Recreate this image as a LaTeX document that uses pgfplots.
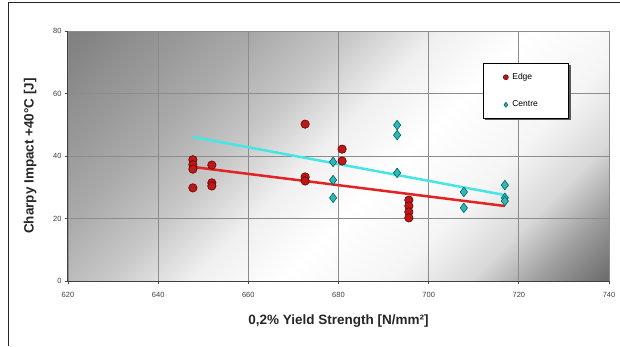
\documentclass[border=0pt]{standalone}
\usepackage{fontspec}
\setmainfont{Liberation Sans}
\usepackage{pgfplots}
\pgfplotsset{compat=1.18}
\usetikzlibrary{shadows}
\definecolor{edgefill}{RGB}{185,25,25}
\definecolor{edgedraw}{RGB}{110,0,0}
\definecolor{edgeline}{RGB}{225,35,35}
\definecolor{cenfill}{RGB}{45,185,185}
\definecolor{cendraw}{RGB}{0,95,95}
\definecolor{cenline}{RGB}{70,230,230}
\pgfdeclareverticalshading{diagbg}{100bp}{color(0bp)=(black!57); color(15bp)=(black!57); color(21bp)=(black!38); color(27bp)=(black!15); color(34bp)=(black!4); color(44bp)=(white); color(52bp)=(black!6); color(60bp)=(black!22); color(68bp)=(black!33); color(85bp)=(black!50); color(100bp)=(black!50)}
\begin{document}
\begin{tikzpicture}[x=1pt,y=1pt]
\useasboundingbox (-68,-65) rectangle (552,281);
\draw[black!85, line width=1pt] (-59,-65) -- (-59,278) -- (552,278);
\begin{axis}[
  at={(0,0)}, anchor=south west,
  scale only axis, width=541pt, height=250pt,
  xmin=620, xmax=740, ymin=0, ymax=80,
  xtick={620,640,...,740}, ytick={0,20,...,80},
  axis background/.style={shading=diagbg, shading angle=45},
  grid=major, major grid style={black!45, line width=0.8pt},
  axis x line=bottom, axis y line=left, axis line style={-, black!75, line width=1pt},
  tick align=outside, major tick length=3pt, tick style={black!70, line width=0.8pt},
  ticklabel style={font=\fontsize{7.5}{8}\selectfont, text=black!75},
  xticklabel style={yshift=-5pt},
  /pgf/number format/assume math mode=true,
  /pgf/number format/1000 sep={},
  xlabel={0,2\% Yield Strength [N/mm²]},
  ylabel={Charpy Impact +40°C [J]},
  label style={font=\bfseries\fontsize{13.5}{15}\selectfont, text=black!85},
  xlabel style={at={(axis description cs:0.5,-0.16)}, anchor=center},
  ylabel style={at={(axis description cs:-0.0702,0.5)}, anchor=center},
  legend style={at={(axis description cs:0.767,0.872)}, anchor=north west, draw=black, line width=0.8pt, fill=white,
    font=\fontsize{8.5}{9}\selectfont, inner xsep=20pt, inner ysep=8pt, row sep=16pt, column sep=2pt,
    general shadow={fill=black!65, shadow xshift=2pt, shadow yshift=-2pt}, cells={anchor=west}},
  legend image code/.code={\draw[mark repeat=1,mark phase=1,#1,mark size=2.5pt] plot coordinates {(0pt,0pt)};},
]
\addplot[only marks, mark=*, mark size=4.2pt, draw=edgedraw, fill=edgefill, line width=0.6pt] coordinates {
(647.7,38.8) (647.7,37.2) (647.7,35.8) (647.7,29.8)
(651.9,37.1) (651.9,31.4) (651.9,30.4)
(672.6,50.2) (672.6,33.3) (672.6,32.0)
(680.8,42.2) (680.8,38.4)
(695.6,25.9) (695.6,24.0) (695.6,22.1) (695.6,20.2)
};
\addlegendentry{Edge}
\addplot[only marks, mark=diamond*, mark size=4.8pt, draw=cendraw, fill=cenfill, line width=0.6pt] coordinates {
(678.8,38.1) (678.8,32.3) (678.8,26.6)
(693.0,49.9) (693.0,46.7) (693.0,34.6)
(707.8,28.5) (707.8,23.4)
(716.9,30.7) (716.9,26.6) (716.9,25.6)
};
\addlegendentry{Centre\hspace*{9pt}}
\addplot[edgeline, line width=2.5pt, forget plot] coordinates {(647.7,36.5) (716.9,24.0)};
\addplot[cenline, line width=2.5pt, forget plot] coordinates {(647.7,46.1) (716.9,27.5)};
\end{axis}
\end{tikzpicture}
\end{document}
